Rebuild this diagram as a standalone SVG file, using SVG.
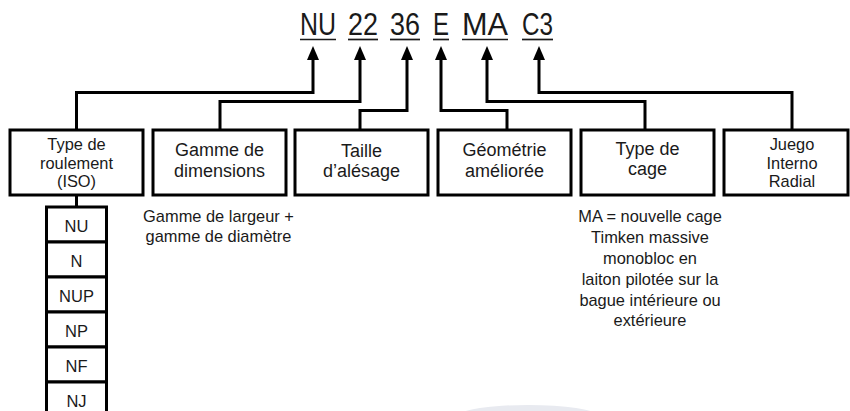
<svg xmlns="http://www.w3.org/2000/svg" width="850" height="411" viewBox="0 0 850 411">
  <defs>
    <style>
      .t { font-family: "Liberation Sans", Arial, sans-serif; fill: #1a1a1a; }
      .title { font-size: 30.5px; text-anchor: middle; }
      .box { fill: #ffffff; stroke: #000; stroke-width: 3; }
      .bt { font-size: 18px; text-anchor: middle; }
      .bt3 { font-size: 16.4px; text-anchor: middle; }
      .ct { font-size: 16.5px; text-anchor: middle; }
      .dt { font-size: 16.4px; text-anchor: middle; }
      .ul { stroke: #1a1a1a; stroke-width: 1.7; }
      .conn { fill: none; stroke: #000; stroke-width: 3; marker-end: url(#arrow); }
      .link { fill: none; stroke: #000; stroke-width: 3; }
    </style>
    <marker id="arrow" markerUnits="userSpaceOnUse" markerWidth="14" markerHeight="12" viewBox="0 0 14 12" refX="2" refY="6" orient="auto">
      <path d="M0,0 L14,6 L0,12 z" fill="#000"/>
    </marker>
  </defs>
  <rect width="850" height="411" fill="#ffffff"/>
  <ellipse cx="528" cy="415" rx="68" ry="10" fill="#e8eaf0"/>

  <g id="title">
    <text class="t title" x="318" y="35" textLength="36" lengthAdjust="spacingAndGlyphs">NU</text>
    <text class="t title" x="363" y="35" textLength="30" lengthAdjust="spacingAndGlyphs">22</text>
    <text class="t title" x="405" y="35" textLength="30" lengthAdjust="spacingAndGlyphs">36</text>
    <text class="t title" x="441" y="35" textLength="16" lengthAdjust="spacingAndGlyphs">E</text>
    <text class="t title" x="485" y="35" textLength="46" lengthAdjust="spacingAndGlyphs">MA</text>
    <text class="t title" x="537.5" y="35" textLength="31" lengthAdjust="spacingAndGlyphs">C3</text>
    <line class="ul" x1="300" y1="39.5" x2="336" y2="39.5"/>
    <line class="ul" x1="348" y1="39.5" x2="378" y2="39.5"/>
    <line class="ul" x1="390" y1="39.5" x2="420" y2="39.5"/>
    <line class="ul" x1="433" y1="39.5" x2="449" y2="39.5"/>
    <line class="ul" x1="462" y1="39.5" x2="508" y2="39.5"/>
    <line class="ul" x1="522" y1="39.5" x2="553" y2="39.5"/>
  </g>

  <g id="connectors">
    <path class="conn" d="M76.5,130 V92.5 H313 V58"/>
    <path class="conn" d="M220,130 V101.5 H360 V58"/>
    <path class="conn" d="M360,130 V110.5 H407 V58"/>
    <path class="conn" d="M507,130 V110.5 H441 V58"/>
    <path class="conn" d="M645,130 V101.5 H487 V58"/>
    <path class="conn" d="M792,130 V92.5 H539 V58"/>
    <path class="link" d="M76.5,195 V207"/>
  </g>

  <g id="type-roulement">
    <rect class="box" x="10" y="130" width="133" height="65"/>
    <text class="t bt3" x="76.5" y="150">Type de</text>
    <text class="t bt3" x="76.5" y="168.5">roulement</text>
    <text class="t bt3" x="76.5" y="187">(ISO)</text>
  </g>
  <g id="gamme-dimensions">
    <rect class="box" x="153" y="130" width="133" height="65"/>
    <text class="t bt" x="219.5" y="156">Gamme de</text>
    <text class="t bt" x="219.5" y="176.5">dimensions</text>
  </g>
  <g id="taille-alesage">
    <rect class="box" x="295" y="130" width="133" height="65"/>
    <text class="t bt" x="361.5" y="157">Taille</text>
    <text class="t bt" x="361.5" y="177">d’alésage</text>
  </g>
  <g id="geometrie">
    <rect class="box" x="438" y="130" width="133" height="65"/>
    <text class="t bt" x="504.5" y="156">Géométrie</text>
    <text class="t bt" x="504.5" y="177">améliorée</text>
  </g>
  <g id="type-cage">
    <rect class="box" x="581" y="130" width="133" height="65"/>
    <text class="t bt" x="647.5" y="155">Type de</text>
    <text class="t bt" x="647.5" y="175">cage</text>
  </g>
  <g id="juego">
    <rect class="box" x="724" y="130" width="124" height="65"/>
    <text class="t bt3" x="792" y="150">Juego</text>
    <text class="t bt3" x="792" y="168.5">Interno</text>
    <text class="t bt3" x="792" y="187">Radial</text>
  </g>

  <g id="liste-types">
    <rect class="box" x="46.5" y="207" width="60" height="35"/>
    <text class="t ct" x="76.5" y="231.5">NU</text>
    <rect class="box" x="46.5" y="242" width="60" height="35"/>
    <text class="t ct" x="76.5" y="266.5">N</text>
    <rect class="box" x="46.5" y="277" width="60" height="35"/>
    <text class="t ct" x="76.5" y="301.5">NUP</text>
    <rect class="box" x="46.5" y="312" width="60" height="35"/>
    <text class="t ct" x="76.5" y="336.5">NP</text>
    <rect class="box" x="46.5" y="347" width="60" height="35"/>
    <text class="t ct" x="76.5" y="371.5">NF</text>
    <rect class="box" x="46.5" y="382" width="60" height="35"/>
    <text class="t ct" x="76.5" y="406.5">NJ</text>
  </g>

  <g id="note-gamme">
    <text class="t dt" x="218.5" y="221.5">Gamme de largeur +</text>
    <text class="t dt" x="218.5" y="241.5">gamme de diamètre</text>
  </g>
  <g id="note-cage">
    <text class="t dt" x="650" y="222">MA = nouvelle cage</text>
    <text class="t dt" x="650" y="243">Timken massive</text>
    <text class="t dt" x="650" y="264">monobloc en</text>
    <text class="t dt" x="650" y="285">laiton pilotée sur la</text>
    <text class="t dt" x="650" y="305.5">bague intérieure ou</text>
    <text class="t dt" x="650" y="326">extérieure</text>
  </g>
</svg>
